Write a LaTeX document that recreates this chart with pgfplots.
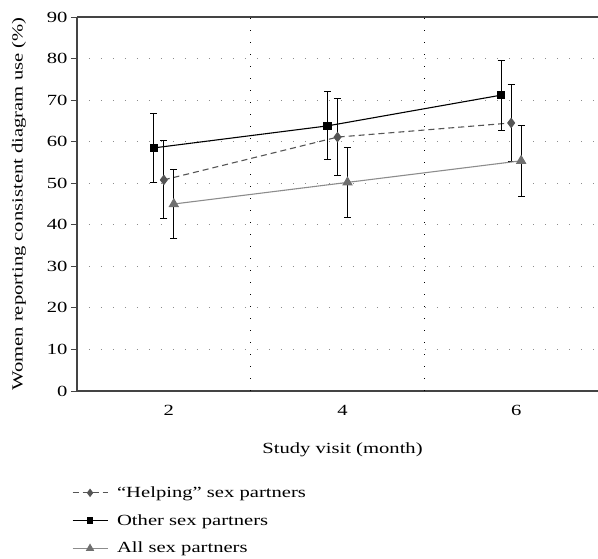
\documentclass[border=0pt]{standalone}
\usepackage{fontspec}
\setmainfont{Liberation Serif}[FakeStretch=1.33]
\usepackage{pgfplots}
\pgfplotsset{compat=1.18}

\definecolor{axgray}{HTML}{444444}
\definecolor{dgray}{HTML}{555555}
\definecolor{lgray}{HTML}{8C8C8C}
\definecolor{mgray}{HTML}{707070}

\pgfplotstableread{
x y e
1.885 58.5 8.3
3.885 63.8 8.2
5.885 71.2 8.4
}\other
\pgfplotstableread{
x y e
2 50.8 9.4
4 61.1 9.3
6 64.5 9.2
}\helping
\pgfplotstableread{
x y e
2.115 45.0 8.3
4.115 50.2 8.5
6.115 55.4 8.6
}\all

\begin{document}
\begin{tikzpicture}
\begin{axis}[
  scale only axis,
  width=521pt, height=374pt,
  xmin=1, xmax=7,
  ymin=0, ymax=90,
  axis x line*=box,
  axis y line*=left,
  axis line style={axgray, line width=1.2pt},
  font=\fontsize{15.5}{18}\selectfont,
  /pgf/number format/assume math mode=true,
  xtick={2,4,6},
  major x tick style={draw=none},
  xticklabel style={yshift=-11pt, xshift=5pt},
  extra x ticks={3,5},
  extra x tick labels={},
  extra x tick style={grid=major,
    major grid style={black, line width=0.9pt, dash pattern=on 1pt off 11pt},
    tick style={black, line width=0.6pt}, major tick length=6pt, tick align=center},
  ytick={0,10,...,90},
  ytick align=outside,
  ytick pos=left,
  y tick style={axgray, line width=0.8pt},
  major tick length=6pt,
  ymajorgrids,
  y grid style={lgray, line width=1pt, dash pattern=on 1.2pt off 10.8pt},
  xlabel={Study visit (month)},
  ylabel={Women reporting consistent diagram use (\%)},
  xlabel style={yshift=-17pt, xshift=5pt},
  ylabel style={yshift=14pt},
  legend style={draw=none, fill=none, at={(-0.01,-0.25)}, anchor=north west,
    font=\fontsize{15.5}{18}\selectfont, row sep=11.5pt, inner sep=0pt,
    legend cell align=left,
    /tikz/every odd column/.append style={column sep=7pt}},
  legend image code/.code={
    \draw[mark repeat=2, mark phase=2, #1, every mark/.append style={scale=0.75}]
      plot coordinates {(0pt,0pt) (17.5pt,0pt) (35pt,0pt)};
  },
  clip=false,
]
\addplot[dgray, line width=1.1pt, dash pattern=on 6pt off 4pt,
  mark=diamond*, mark size=4.5pt, mark options={solid, fill=dgray, draw=dgray},
  error bars/.cd, y dir=both, y explicit,
  error bar style={black, line width=1pt, solid}, error mark options={black, rotate=90, mark size=3.5pt, line width=1pt}]
  table[x=x, y=y, y error=e] {\helping};
\addlegendentry{``Helping'' sex partners}
\addplot[black, line width=1.1pt,
  mark=square*, mark size=3.6pt, mark options={fill=black},
  error bars/.cd, y dir=both, y explicit,
  error bar style={black, line width=1pt}, error mark options={black, rotate=90, mark size=3.5pt, line width=1pt}]
  table[x=x, y=y, y error=e] {\other};
\addlegendentry{Other sex partners}
\addplot[lgray, line width=1.1pt,
  mark=triangle*, mark size=5pt, mark options={fill=mgray, draw=mgray},
  error bars/.cd, y dir=both, y explicit,
  error bar style={black, line width=1pt}, error mark options={black, rotate=90, mark size=3.5pt, line width=1pt}]
  table[x=x, y=y, y error=e] {\all};
\addlegendentry{All sex partners}
\end{axis}
\pgfresetboundingbox
\path[use as bounding box] (current axis.south west) ++(-77pt,-168pt) rectangle ++(598pt,559pt);
\end{tikzpicture}
\end{document}
